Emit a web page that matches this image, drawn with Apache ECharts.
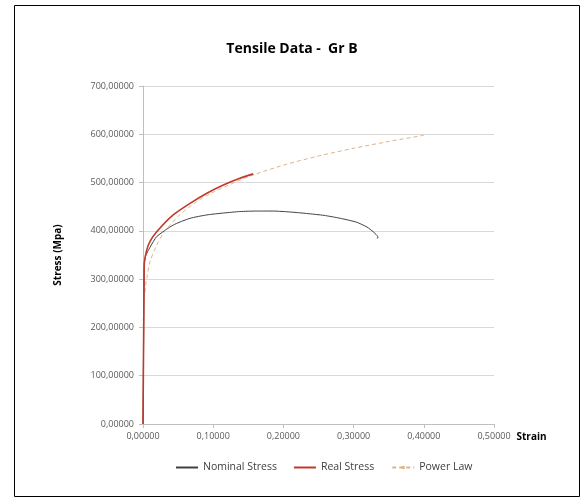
<!DOCTYPE html>
<html>
<head>
<meta charset="utf-8">
<script src="https://cdn.jsdelivr.net/npm/echarts@6/dist/echarts.min.js"></script>
<style>html,body{margin:0;padding:0;background:#fff;}#c{width:584px;height:499px;}</style>
</head>
<body>
<div id="c"></div>
<script>
var nominalStress = [[0,0],[0.0005,100],[0.001,200],[0.0015,300],[0.002,335],[0.004,349],[0.007,358],[0.01,366],[0.0195,388],[0.043,412],[0.067,426],[0.091,433],[0.115,437],[0.138,440],[0.162,441],[0.186,441],[0.21,439],[0.233,436],[0.258,432],[0.281,426],[0.304,418],[0.319,408],[0.328,398],[0.333,391],[0.335,386],[0.333,385]];
var realStress = [[0,0],[0.0005,100],[0.001,200],[0.0015,300],[0.002,335],[0.0053,360],[0.01,378],[0.0195,398],[0.043,433],[0.067,457],[0.091,478],[0.1145,495],[0.138,509],[0.157,518]];
var powerLaw = [[0.0005,215],[0.001,232],[0.002,260],[0.004,290],[0.006,307],[0.01,336],[0.02,372],[0.03,397],[0.05,430],[0.075,459],[0.1,480],[0.15,512],[0.2,536],[0.25,555],[0.3,571],[0.35,585],[0.4,598]];
var xTicks = [0,0.1,0.2,0.3,0.4,0.5];
var yTicks = [0,100,200,300,400,500,600,700];

var font = '"Open Sans", "Liberation Sans", sans-serif';
var chart = echarts.init(document.getElementById('c'));
function fmt(v){ return v.toFixed(5).replace('.', ','); }
chart.setOption({
  animation:false,
  backgroundColor:'#fff',
  textStyle:{fontFamily:font},
  title:{text:'Tensile Data -  Gr B', left:'center', top:37, textStyle:{fontSize:14, fontWeight:'bold', color:'#000', fontFamily:font}},
  grid:{left:143, right:90, top:86, bottom:75},
  legend:{bottom:21, left:171, itemWidth:22, itemHeight:2, itemGap:17, textStyle:{fontSize:10.5, color:'#404040'},
    data:[{name:'Nominal Stress', icon:'rect'},{name:'Real Stress', icon:'rect'},{name:'Power Law'}]},
  xAxis:{type:'value', min:xTicks[0], max:xTicks[xTicks.length-1], interval:0.1,
    name:'Strain', nameLocation:'end', nameGap:22,
    nameTextStyle:{fontWeight:'bold', fontSize:10, color:'#000', verticalAlign:'top', padding:[8,0,0,0]},
    axisLine:{lineStyle:{color:'#bfbfbf'}}, axisTick:{show:true, length:4, lineStyle:{color:'#bfbfbf'}},
    splitLine:{show:false},
    axisLabel:{fontSize:9, color:'#595959', margin:8, formatter:fmt}},
  yAxis:{type:'value', min:yTicks[0], max:yTicks[yTicks.length-1], interval:100,
    name:'Stress (Mpa)', nameLocation:'middle', nameGap:80,
    nameTextStyle:{fontWeight:'bold', fontSize:10, color:'#000'},
    axisLine:{show:true, lineStyle:{color:'#bfbfbf'}}, axisTick:{show:true, length:4, lineStyle:{color:'#bfbfbf'}},
    splitLine:{lineStyle:{color:'#d9d9d9'}},
    axisLabel:{fontSize:9, color:'#595959', margin:9, formatter:fmt}},
  graphic:[{type:'rect', shape:{x:14.5, y:5.5, width:565, height:491}, style:{fill:null, stroke:'#000', lineWidth:1}, silent:true}],
  series:[
    {name:'Nominal Stress', type:'line', data:nominalStress, showSymbol:false, smooth:0.2, lineStyle:{color:'#404040', width:1}, itemStyle:{color:'#404040'}},
    {name:'Power Law', type:'line', data:powerLaw, showSymbol:false, smooth:0.3, lineStyle:{color:'#dcb48c', width:1, type:[4,3]}, itemStyle:{color:'#dcb48c'}},
    {name:'Real Stress', type:'line', data:realStress, showSymbol:false, smooth:0.2, lineStyle:{color:'#c0392b', width:1.6}, itemStyle:{color:'#c0392b'}}
  ]
});
</script>
</body>
</html>
